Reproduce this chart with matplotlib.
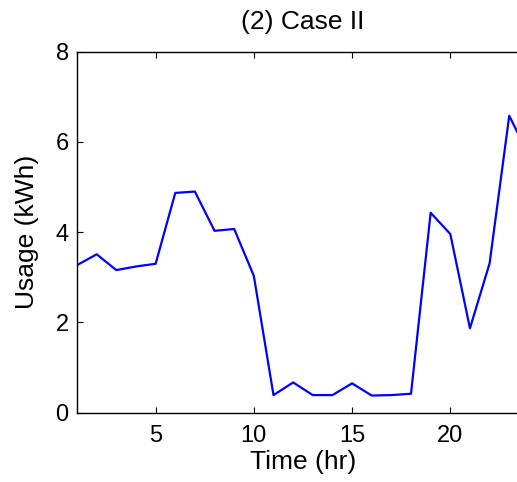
import matplotlib.pyplot as plt

# hourly usage, case II
hours = list(range(1, 25))
usage = [3.27, 3.51, 3.16, 3.24, 3.30, 4.87, 4.90, 4.03, 4.07, 3.03,
         0.39, 0.67, 0.39, 0.39, 0.65, 0.38, 0.39, 0.42, 4.43, 3.96,
         1.87, 3.31, 6.58, 5.70]
x_ticks = [5, 10, 15, 20]
y_ticks = [0, 2, 4, 6, 8]

plt.rcParams["font.family"] = ["Liberation Sans", "DejaVu Sans"]

fig = plt.figure(figsize=(5.17, 4.82), dpi=100)
ax = fig.add_axes([0.149, 0.1438, 0.874, 0.749])

ax.plot(hours, usage, color="#0000ff", linewidth=1.6)

ax.set_xlim(1, 24)
ax.set_ylim(0, 8)
ax.set_xticks(x_ticks)
ax.set_yticks(y_ticks)
ax.tick_params(direction="in", length=4, width=0.8, labelsize=17,
               top=True, right=True)
ax.tick_params(axis="x", pad=9)
ax.tick_params(axis="y", pad=6)
for s in ax.spines.values():
    s.set_linewidth(1.0)

ax.set_xlabel("Time (hr)", fontsize=19, labelpad=2)
ax.set_ylabel("Usage (kWh)", fontsize=19, labelpad=12)
ax.set_title("(2) Case II", fontsize=19, pad=16)

fig.savefig("out.png", dpi=100)
